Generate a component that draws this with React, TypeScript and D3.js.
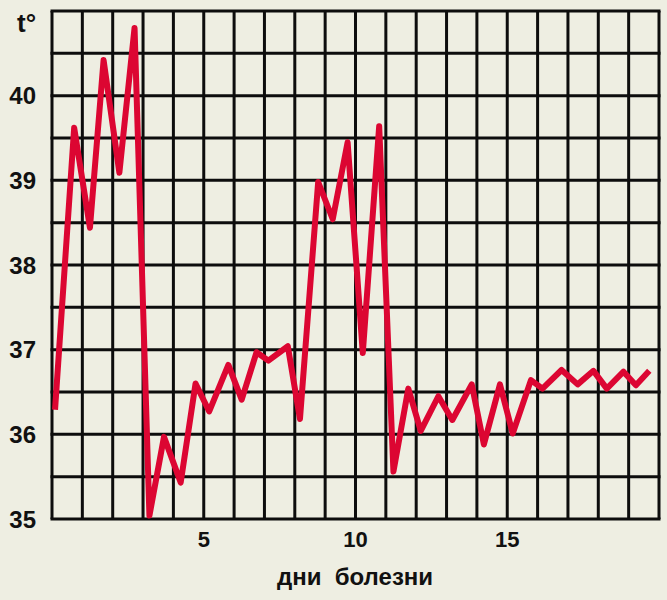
import React from "react";
import * as d3 from "d3";

const days: number[] = [0.1, 0.73, 1.25, 1.7, 2.22, 2.72, 3.21, 3.69, 4.24, 4.73, 5.18, 5.81, 6.25, 6.74, 7.13, 7.77, 8.17, 8.77, 9.25, 9.74, 10.24, 10.78, 11.25, 11.74, 12.15, 12.73, 13.19, 13.83, 14.23, 14.76, 15.18, 15.78, 16.16, 16.79, 17.32, 17.84, 18.28, 18.83, 19.24, 19.68];
const temps: number[] = [36.29, 39.62, 38.44, 40.42, 39.09, 40.8, 35.04, 35.97, 35.43, 36.6, 36.27, 36.82, 36.41, 36.97, 36.87, 37.04, 36.18, 38.98, 38.54, 39.45, 36.96, 39.64, 35.56, 36.54, 36.04, 36.45, 36.17, 36.59, 35.88, 36.59, 36.01, 36.64, 36.54, 36.76, 36.59, 36.75, 36.54, 36.74, 36.58, 36.75];
const yTickLabels: number[] = [35, 36, 37, 38, 39, 40];
const xTickLabels: number[] = [5, 10, 15];
const yAxisTitle = "t°";
const xAxisTitle = "дни  болезни";

const W = 667;
const H = 600;
const L = 52, R = 659, T = 11, B = 519;
const FONT = "'Liberation Sans', Arial, Helvetica, sans-serif";

export default function App() {
  const x = d3.scaleLinear().domain([0, 20]).range([L, R]);
  const y = d3.scaleLinear().domain([35, 41]).range([B, T]);
  const vLines = d3.range(0, 21, 1);
  const hLines = d3.range(35, 41.001, 0.5);
  const pts = days.map((d, i) => [d, temps[i]] as [number, number]);
  const line = d3.line<[number, number]>().x((d) => x(d[0])).y((d) => y(d[1]));

  return (
    <svg width={W} height={H} style={{ position: "absolute", left: 0, top: 0 }}>
      <rect x={0} y={0} width={W} height={H} fill="#eeeee2" />
      {vLines.map((v) => (
        <line key={"v" + v} x1={x(v)} x2={x(v)} y1={T} y2={B} stroke="#0d0d0d" strokeWidth={3} />
      ))}
      {hLines.map((h) => (
        <line key={"h" + h} x1={L - 1.5} x2={R + 1.5} y1={y(h)} y2={y(h)} stroke="#0d0d0d" strokeWidth={3} />
      ))}
      <path d={line(pts) || ""} fill="none" stroke="#dc0632" strokeWidth={6} strokeLinejoin="round" strokeLinecap="butt" />
      {yTickLabels.map((t) => (
        <text key={"yt" + t} x={36} y={y(t) + 8.6} textAnchor="end" fontFamily={FONT} fontWeight="bold" fontSize={24} fill="#111">
          {t}
        </text>
      ))}
      {xTickLabels.map((t) => (
        <text key={"xt" + t} x={x(t)} y={547} textAnchor="middle" fontFamily={FONT} fontWeight="bold" fontSize={22} fill="#111">
          {t}
        </text>
      ))}
      <text x={17} y={32} fontFamily={FONT} fontWeight="bold" fontSize={26} fill="#111">
        {yAxisTitle}
      </text>
      <text x={355} y={585} textAnchor="middle" fontFamily={FONT} fontWeight="bold" fontSize={24} fill="#111" style={{ whiteSpace: "pre" }}>
        {xAxisTitle}
      </text>
    </svg>
  );
}
